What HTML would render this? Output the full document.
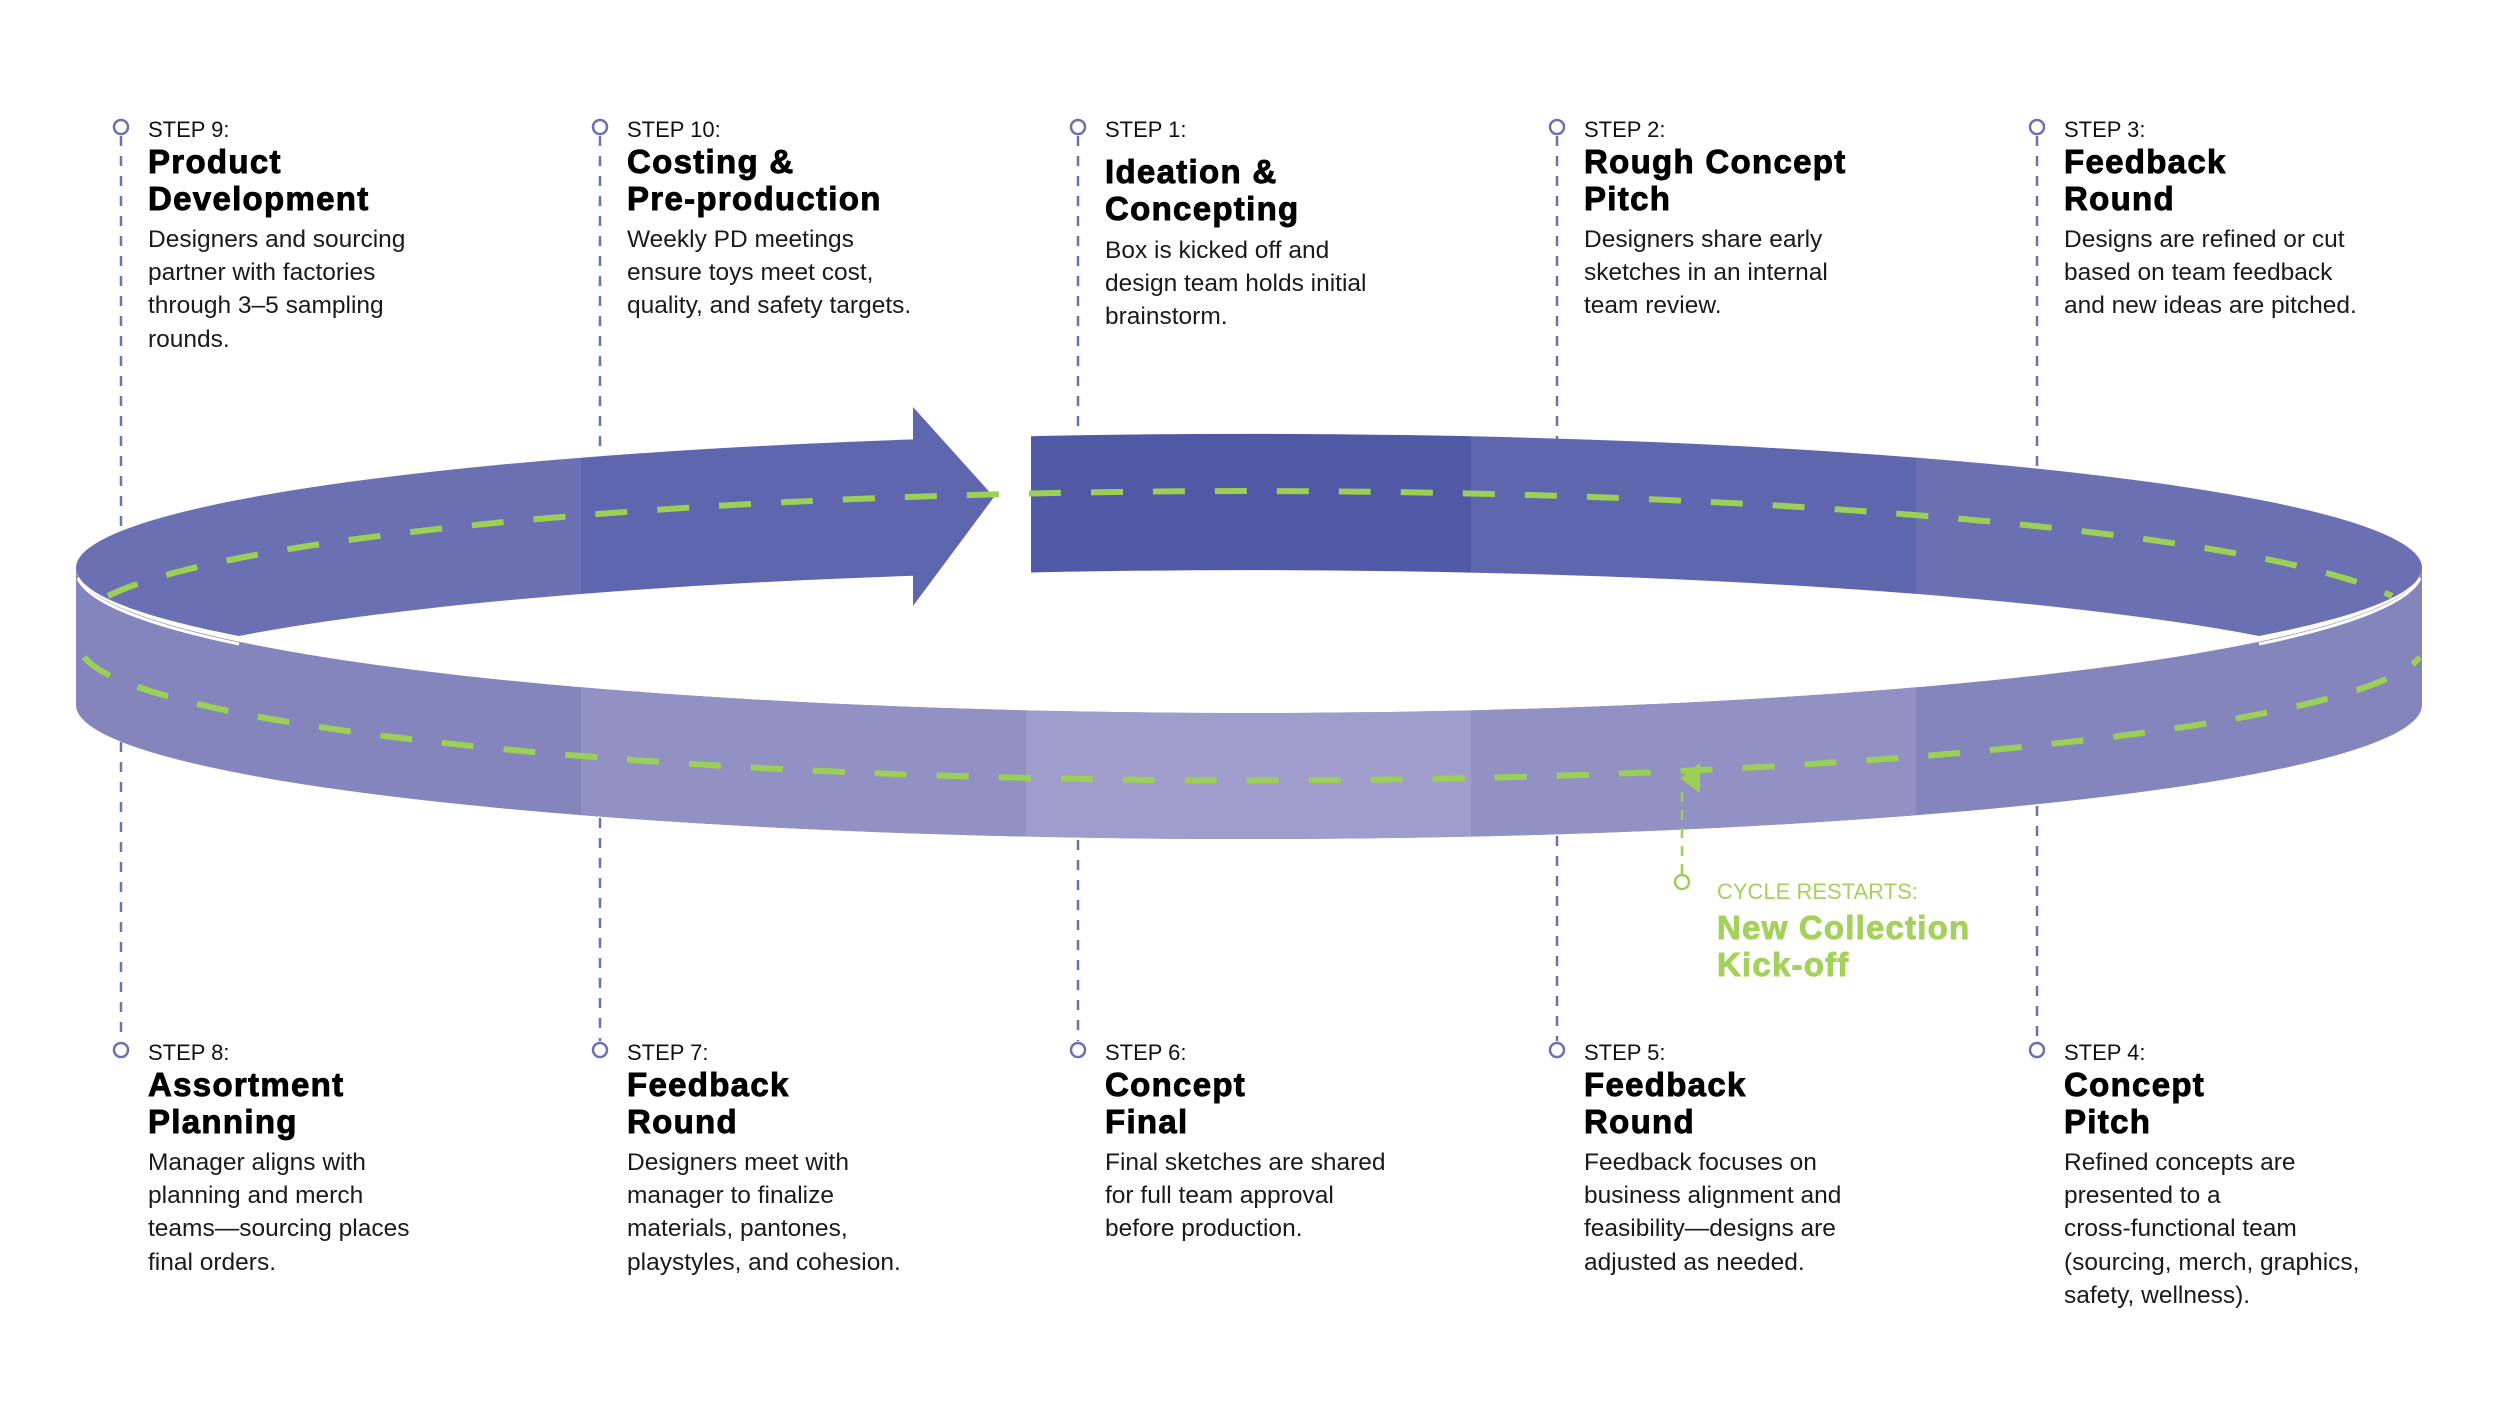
<!DOCTYPE html>
<html><head><meta charset="utf-8"><style>
html,body{margin:0;padding:0;background:#fff;}
svg{display:block;}
.lab{font-family:"Liberation Sans",sans-serif;font-size:22px;fill:#111;}
.tit{font-family:"Liberation Sans",sans-serif;font-weight:bold;font-size:33px;letter-spacing:1.3px;fill:#000;stroke:#000;stroke-width:0.9px;}
.bod{font-family:"Liberation Sans",sans-serif;font-size:24.5px;fill:#1a1a1a;}
.glab{font-family:"Liberation Sans",sans-serif;font-size:22px;fill:#a3d15b;}
.gtit{font-family:"Liberation Sans",sans-serif;font-weight:bold;font-size:33px;letter-spacing:1.2px;fill:#a3d15b;stroke:#a3d15b;stroke-width:0.9px;}
</style></head><body>
<svg width="2500" height="1406" viewBox="0 0 2500 1406" xmlns="http://www.w3.org/2000/svg">
<defs>
<path id="back" d="M239,636 A1173,134 0 1 1 2259,636 A1173,134 0 0 0 239,636 Z"/>
<path id="front" d="M76,568 A1173,145 0 0 0 2422,568 L2422,705 A1173,134 0 0 1 76,705 Z"/>
<clipPath id="b1"><rect x="0" y="0" width="581" height="1406"/></clipPath>
<clipPath id="b2"><rect x="581" y="0" width="333" height="1406"/></clipPath>
<clipPath id="b3"><rect x="1031" y="0" width="440" height="1406"/></clipPath>
<clipPath id="b4"><rect x="1471" y="0" width="445" height="1406"/></clipPath>
<clipPath id="b5"><rect x="1916" y="0" width="584" height="1406"/></clipPath>
<clipPath id="f2"><rect x="581" y="0" width="445" height="1406"/></clipPath>
<clipPath id="f3"><rect x="1026" y="0" width="445" height="1406"/></clipPath>
</defs>

<g stroke="#6b70b3" stroke-width="2.5" stroke-dasharray="10,10" fill="none">
<line x1="121" y1="136" x2="121" y2="532"/><line x1="121" y1="742" x2="121" y2="1041"/>
<line x1="600" y1="136" x2="600" y2="450"/><line x1="600" y1="818" x2="600" y2="1041"/>
<line x1="1078" y1="136" x2="1078" y2="434"/><line x1="1078" y1="840" x2="1078" y2="1041"/>
<line x1="1557" y1="136" x2="1557" y2="440"/><line x1="1557" y1="836" x2="1557" y2="1041"/>
<line x1="2037" y1="136" x2="2037" y2="470"/><line x1="2037" y1="806" x2="2037" y2="1041"/>
</g>
<g stroke="#6b70b3" stroke-width="2.5" fill="#fff">
<circle cx="121" cy="127" r="7"/><circle cx="600" cy="127" r="7"/><circle cx="1078" cy="127" r="7"/><circle cx="1557" cy="127" r="7"/><circle cx="2037" cy="127" r="7"/>
<circle cx="121" cy="1050" r="7"/><circle cx="600" cy="1050" r="7"/><circle cx="1078" cy="1050" r="7"/><circle cx="1557" cy="1050" r="7"/><circle cx="2037" cy="1050" r="7"/>
</g>

<use href="#back" fill="#6b70b3" clip-path="url(#b1)"/>
<use href="#back" fill="#5e66ad" clip-path="url(#b2)"/>
<polygon points="913,407 994,497 913,606" fill="#5e66ad"/>
<use href="#back" fill="#5059a6" clip-path="url(#b3)"/>
<use href="#back" fill="#5e66ad" clip-path="url(#b4)"/>
<use href="#back" fill="#6b70b3" clip-path="url(#b5)"/>

<path d="M108,596 A1173,136 0 0 1 2392,596" fill="none" stroke="#9ccf55" stroke-width="6" stroke-dasharray="32,30"/>

<use href="#front" fill="#8585bd"/>
<use href="#front" fill="#9191c4" clip-path="url(#f2)"/>
<use href="#front" fill="#a09dcd" clip-path="url(#f3)"/>
<g clip-path="url(#b4)"><use href="#front" fill="#9191c4"/></g>
<path d="M78,578 A1173,145 0 0 0 239,644" fill="none" stroke="#fff" stroke-width="3"/>
<path d="M2259,644 A1173,145 0 0 0 2420,578" fill="none" stroke="#fff" stroke-width="3"/>

<path d="M84,657 A1173,136 0 0 0 2420,657" fill="none" stroke="#9ccf55" stroke-width="6" stroke-dasharray="32,30"/>
<polygon points="1680,778 1700,763 1700,793" fill="#9ccf55"/>
<line x1="1682" y1="792" x2="1682" y2="874" stroke="#9ccf55" stroke-width="2.5" stroke-dasharray="10,8"/>
<circle cx="1682" cy="882" r="7" fill="#fff" stroke="#9ccf55" stroke-width="2.5"/>
<text class="glab" x="1717" y="899">CYCLE RESTARTS:</text>
<text class="gtit" x="1717" y="939">New Collection</text>
<text class="gtit" x="1717" y="976">Kick-off</text>

<text class="lab" x="148" y="137">STEP 9:</text>
<text class="tit" x="148" y="173">Product</text>
<text class="tit" x="148" y="210">Development</text>
<text class="bod" x="148" y="247">Designers and sourcing</text>
<text class="bod" x="148" y="280">partner with factories</text>
<text class="bod" x="148" y="313">through 3–5 sampling</text>
<text class="bod" x="148" y="347">rounds.</text>

<text class="lab" x="627" y="137">STEP 10:</text>
<text class="tit" x="627" y="173">Costing &amp;</text>
<text class="tit" x="627" y="210">Pre-production</text>
<text class="bod" x="627" y="247">Weekly PD meetings</text>
<text class="bod" x="627" y="280">ensure toys meet cost,</text>
<text class="bod" x="627" y="313">quality, and safety targets.</text>

<text class="lab" x="1105" y="137">STEP 1:</text>
<text class="tit" x="1105" y="183">Ideation &amp;</text>
<text class="tit" x="1105" y="220">Concepting</text>
<text class="bod" x="1105" y="258">Box is kicked off and</text>
<text class="bod" x="1105" y="291">design team holds initial</text>
<text class="bod" x="1105" y="324">brainstorm.</text>

<text class="lab" x="1584" y="137">STEP 2:</text>
<text class="tit" x="1584" y="173">Rough Concept</text>
<text class="tit" x="1584" y="210">Pitch</text>
<text class="bod" x="1584" y="247">Designers share early</text>
<text class="bod" x="1584" y="280">sketches in an internal</text>
<text class="bod" x="1584" y="313">team review.</text>

<text class="lab" x="2064" y="137">STEP 3:</text>
<text class="tit" x="2064" y="173">Feedback</text>
<text class="tit" x="2064" y="210">Round</text>
<text class="bod" x="2064" y="247">Designs are refined or cut</text>
<text class="bod" x="2064" y="280">based on team feedback</text>
<text class="bod" x="2064" y="313">and new ideas are pitched.</text>

<text class="lab" x="148" y="1060">STEP 8:</text>
<text class="tit" x="148" y="1096">Assortment</text>
<text class="tit" x="148" y="1133">Planning</text>
<text class="bod" x="148" y="1170">Manager aligns with</text>
<text class="bod" x="148" y="1203">planning and merch</text>
<text class="bod" x="148" y="1236">teams—sourcing places</text>
<text class="bod" x="148" y="1270">final orders.</text>

<text class="lab" x="627" y="1060">STEP 7:</text>
<text class="tit" x="627" y="1096">Feedback</text>
<text class="tit" x="627" y="1133">Round</text>
<text class="bod" x="627" y="1170">Designers meet with</text>
<text class="bod" x="627" y="1203">manager to finalize</text>
<text class="bod" x="627" y="1236">materials, pantones,</text>
<text class="bod" x="627" y="1270">playstyles, and cohesion.</text>

<text class="lab" x="1105" y="1060">STEP 6:</text>
<text class="tit" x="1105" y="1096">Concept</text>
<text class="tit" x="1105" y="1133">Final</text>
<text class="bod" x="1105" y="1170">Final sketches are shared</text>
<text class="bod" x="1105" y="1203">for full team approval</text>
<text class="bod" x="1105" y="1236">before production.</text>

<text class="lab" x="1584" y="1060">STEP 5:</text>
<text class="tit" x="1584" y="1096">Feedback</text>
<text class="tit" x="1584" y="1133">Round</text>
<text class="bod" x="1584" y="1170">Feedback focuses on</text>
<text class="bod" x="1584" y="1203">business alignment and</text>
<text class="bod" x="1584" y="1236">feasibility—designs are</text>
<text class="bod" x="1584" y="1270">adjusted as needed.</text>

<text class="lab" x="2064" y="1060">STEP 4:</text>
<text class="tit" x="2064" y="1096">Concept</text>
<text class="tit" x="2064" y="1133">Pitch</text>
<text class="bod" x="2064" y="1170">Refined concepts are</text>
<text class="bod" x="2064" y="1203">presented to a</text>
<text class="bod" x="2064" y="1236">cross-functional team</text>
<text class="bod" x="2064" y="1270">(sourcing, merch, graphics,</text>
<text class="bod" x="2064" y="1303">safety, wellness).</text>
</svg>
</body></html>
